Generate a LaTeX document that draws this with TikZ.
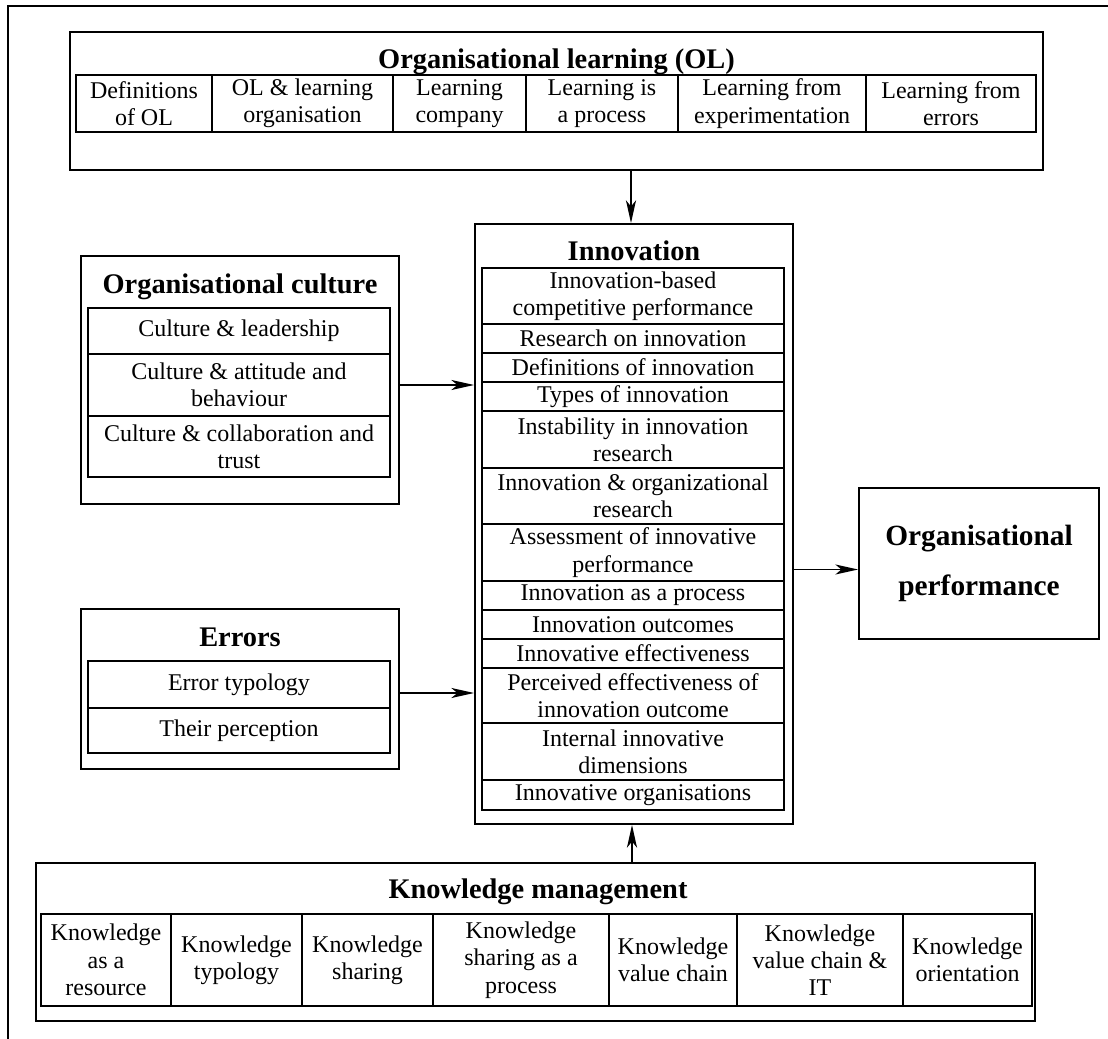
\documentclass[tikz,border=0pt]{standalone}
\usepackage{fontspec}
\setmainfont{Liberation Serif}
\usetikzlibrary{arrows.meta,calc}
% a framed rectangle between two corners (in pixel units), with centred text
\newcommand\mkcell[7][cellbox]{%
  \node[#1, minimum width={(#5-#3)*0.75pt}, minimum height={(#6-#4)*0.75pt}]
    (#2) at ({(#3+#5)/2},{(#4+#6)/2}) {#7};}
\begin{document}
\begin{tikzpicture}[x=0.75pt,y=-0.75pt,
  box/.style={draw, line width=1.4pt, inner sep=0pt},
  cellbox/.style={draw, line width=1.4pt, inner sep=0pt, align=center,
                  font=\fontsize{18}{20.5}\selectfont},
  headtext/.style={anchor=base, inner sep=0pt, font=\fontsize{21.3}{25}\selectfont\bfseries},
  perfbox/.style={box, align=center, font=\fontsize{22}{37.5}\selectfont\bfseries},
  arr/.style={line width=1.4pt, -{Stealth[length=17pt,width=7.5pt,inset=4.5pt]}}]

\useasboundingbox (0,0) rectangle (1108,1039);

% frame
\draw[line width=1.4pt] (8,1039) -- (8,6) -- (1108,6);

% Organisational learning
\mkcell[box]{ol}{70}{32}{1043}{170}{}
\node[headtext] (oltitle) at (556.5,68) {Organisational learning (OL)};
\mkcell{ol1}{76}{75}{212}{132}{Definitions\\of OL}
\mkcell{ol2}{212}{75}{393}{132}{OL \& learning\\organisation}
\mkcell{ol3}{393}{75}{526}{132}{Learning\\company}
\mkcell{ol4}{526}{75}{678}{132}{Learning is\\a process}
\mkcell{ol5}{678}{75}{866}{132}{Learning from\\experimentation}
\mkcell{ol6}{866}{75}{1036}{132}{Learning from\\errors}

% Innovation
\mkcell[box]{innov}{475}{224}{793}{824}{}
\node[headtext] (intitle) at (634,260) {Innovation};
\mkcell{in1}{482}{268}{784}{324}{Innovation-based\\competitive performance}
\mkcell{in2}{482}{324}{784}{353}{Research on innovation}
\mkcell{in3}{482}{353}{784}{382}{Definitions of innovation}
\mkcell{in4}{482}{382}{784}{411}{Types of innovation}
\mkcell{in5}{482}{411}{784}{468}{Instability in innovation\\research}
\mkcell{in6}{482}{468}{784}{524}{Innovation \& organizational\\research}
\mkcell{in7}{482}{524}{784}{581}{Assessment of innovative\\performance}
\mkcell{in8}{482}{581}{784}{610}{Innovation as a process}
\mkcell{in9}{482}{610}{784}{639}{Innovation outcomes}
\mkcell{in10}{482}{639}{784}{668}{Innovative effectiveness}
\mkcell{in11}{482}{668}{784}{723}{Perceived effectiveness of\\innovation outcome}
\mkcell{in12}{482}{723}{784}{780}{Internal innovative\\dimensions}
\mkcell{in13}{482}{780}{784}{810}{Innovative organisations}

% Organisational culture
\mkcell[box]{cult}{81}{256}{399}{504}{}
\node[headtext] (cutitle) at (240,293) {Organisational culture};
\mkcell{cu1}{88}{308}{390}{354}{Culture \& leadership}
\mkcell{cu2}{88}{354}{390}{416}{Culture \& attitude and\\behaviour}
\mkcell{cu3}{88}{416}{390}{477}{Culture \& collaboration and\\trust}

% Errors
\mkcell[box]{err}{81}{609}{399}{769}{}
\node[headtext] (ertitle) at (240,646) {Errors};
\mkcell{er1}{88}{661}{390}{708}{Error typology}
\mkcell{er2}{88}{708}{390}{753}{Their perception}

% Organisational performance
\mkcell[perfbox]{perf}{859}{488}{1099}{639}{Organisational\\performance}

% Knowledge management
\mkcell[box]{km}{36}{863}{1035}{1021}{}
\node[headtext] (kmtitle) at (538,898) {Knowledge management};
\mkcell{km1}{41}{914}{171}{1006}{Knowledge\\as a\\resource}
\mkcell{km2}{171}{914}{302}{1006}{Knowledge\\typology}
\mkcell{km3}{302}{914}{433}{1006}{Knowledge\\sharing}
\mkcell{km4}{433}{914}{609}{1006}{Knowledge\\sharing as a\\process}
\mkcell{km5}{609}{914}{737}{1006}{Knowledge\\value chain}
\mkcell{km6}{737}{914}{903}{1006}{Knowledge\\value chain \&\\IT}
\mkcell{km7}{903}{914}{1032}{1006}{Knowledge\\orientation}

% connectors
\draw[arr] ($(innov.north |- ol.south)+(-3,0)$) -- ($(innov.north)+(-3,0)$);
\draw[arr] ($(innov.south |- km.north)+(-2,0)$) -- ($(innov.south)+(-2,0)$);
\draw[arr] (cult.east |- cu2.center) -- (innov.west |- cu2.center);
\draw[arr] ($(err.east)+(0,4)$) -- ($(err.east -| innov.west)+(0,4)$);
\draw[arr] ($(perf.west -| innov.east)+(0,6)$) -- ($(perf.west)+(0,6)$);
\end{tikzpicture}
\end{document}
